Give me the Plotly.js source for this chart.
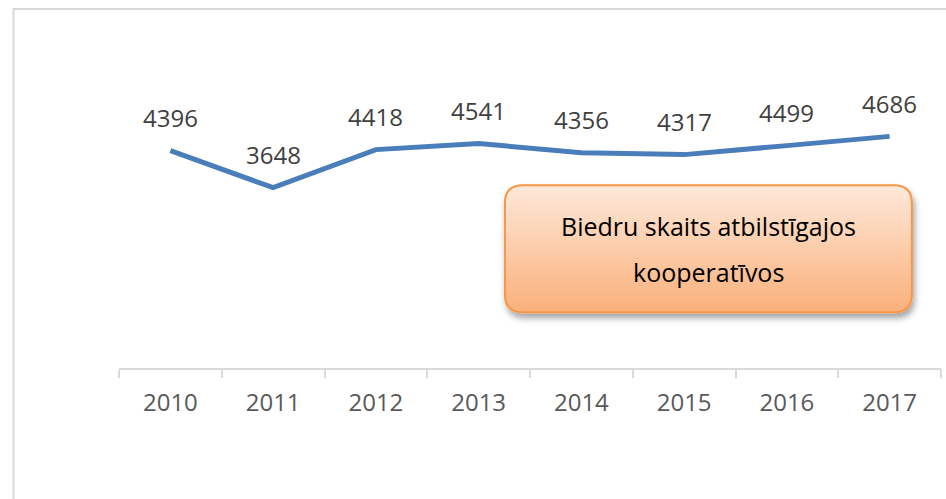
<!DOCTYPE html>
<html>
<head>
<meta charset="utf-8">
<script src="https://cdn.plot.ly/plotly-3.0.1.min.js"></script>
<style>
html,body{margin:0;padding:0;background:#fff;}
#chart{width:946px;height:499px;}
</style>
</head>
<body>
<svg width="0" height="0" style="position:absolute">
  <defs>
    <linearGradient id="boxgrad" x1="0" y1="0" x2="0" y2="1">
      <stop offset="0%" stop-color="#fee9da"/>
      <stop offset="100%" stop-color="#fab07a"/>
    </linearGradient>
    <filter id="boxshadow" x="-10%" y="-20%" width="120%" height="150%">
      <feDropShadow dx="2" dy="5" stdDeviation="3" flood-color="#000" flood-opacity="0.35"/>
    </filter>
  </defs>
</svg>
<div id="chart"></div>
<script>
const years = ['2010','2011','2012','2013','2014','2015','2016','2017'];
const members = [4396, 3648, 4418, 4541, 4356, 4317, 4499, 4686];
const boxLines = ['Biedru skaits atbilstīgajos', 'kooperatīvos'];

const FONT = '"Open Sans", "Liberation Sans", sans-serif';

const trace = {
  x: years,
  y: members,
  type: 'scatter',
  mode: 'lines',
  line: {color: '#4a7ebb', width: 5},
  hoverinfo: 'skip'
};

const annotations = years.map((yr, i) => ({
  x: i, y: members[i], xref: 'x', yref: 'y',
  xanchor: 'center', yanchor: 'middle',
  text: String(members[i]),
  showarrow: false, yshift: 33,
  font: {family: FONT, size: 24, color: '#404040'}
}));

annotations.push({
  xref: 'paper', yref: 'paper', x: 0.717, y: 0.345,
  xanchor: 'center', yanchor: 'middle',
  text: boxLines[0], showarrow: false, yshift: 23,
  font: {family: FONT, size: 25, color: '#000'}
});
annotations.push({
  xref: 'paper', yref: 'paper', x: 0.717, y: 0.345,
  xanchor: 'center', yanchor: 'middle',
  text: boxLines[1], showarrow: false, yshift: -23,
  font: {family: FONT, size: 25, color: '#000'}
});

function roundRect(w, h, r) {
  const x0 = -w/2, x1 = w/2, y0 = -h/2, y1 = h/2;
  return `M ${x0+r} ${y1} L ${x1-r} ${y1} Q ${x1} ${y1} ${x1} ${y1-r} L ${x1} ${y0+r} Q ${x1} ${y0} ${x1-r} ${y0} L ${x0+r} ${y0} Q ${x0} ${y0} ${x0} ${y0+r} L ${x0} ${y1-r} Q ${x0} ${y1} ${x0+r} ${y1} Z`;
}

const shapes = [
  {
    type: 'rect', xref: 'paper', yref: 'paper',
    x0: -0.1283, x1: 1.02, y0: -0.5, y1: 1.0376,
    line: {color: '#d9d9d9', width: 2}, fillcolor: 'rgba(0,0,0,0)', layer: 'below'
  },
  {
    type: 'path', xref: 'paper', yref: 'paper',
    xsizemode: 'pixel', ysizemode: 'pixel', xanchor: 0.717, yanchor: 0.345,
    path: roundRect(407, 127, 18),
    fillcolor: '#fcc9a1', line: {color: '#f79646', width: 2}, layer: 'above'
  }
];

const layout = {
  width: 946, height: 499,
  margin: {l: 118.6, r: 4.6, t: 22, b: 131, pad: 0},
  paper_bgcolor: '#fff', plot_bgcolor: '#fff',
  showlegend: false,
  xaxis: {
    type: 'category', range: [-0.5, 7.5], fixedrange: true,
    showline: true, linecolor: '#d9d9d9', linewidth: 2,
    ticks: 'outside', ticklen: 8, tickwidth: 2, tickcolor: '#d9d9d9',
    tickson: 'boundaries', showgrid: false, zeroline: false,
    tickfont: {family: FONT, size: 24, color: '#595959'},
    ticklabelstandoff: 12
  },
  yaxis: {visible: false, range: [0, 7000], fixedrange: true, showgrid: false, zeroline: false},
  annotations: annotations,
  shapes: shapes
};

Plotly.newPlot('chart', [trace], layout, {staticPlot: true, displayModeBar: false}).then(gd => {
  gd.querySelectorAll('.shapelayer path').forEach(p => {
    const f = p.style.fill || '';
    if (f.indexOf('252, 201, 161') >= 0 || f.toLowerCase() === '#fcc9a1') {
      p.style.fill = 'url(#boxgrad)';
      p.style.filter = 'url(#boxshadow)';
    }
  });
});
</script>
</body>
</html>
